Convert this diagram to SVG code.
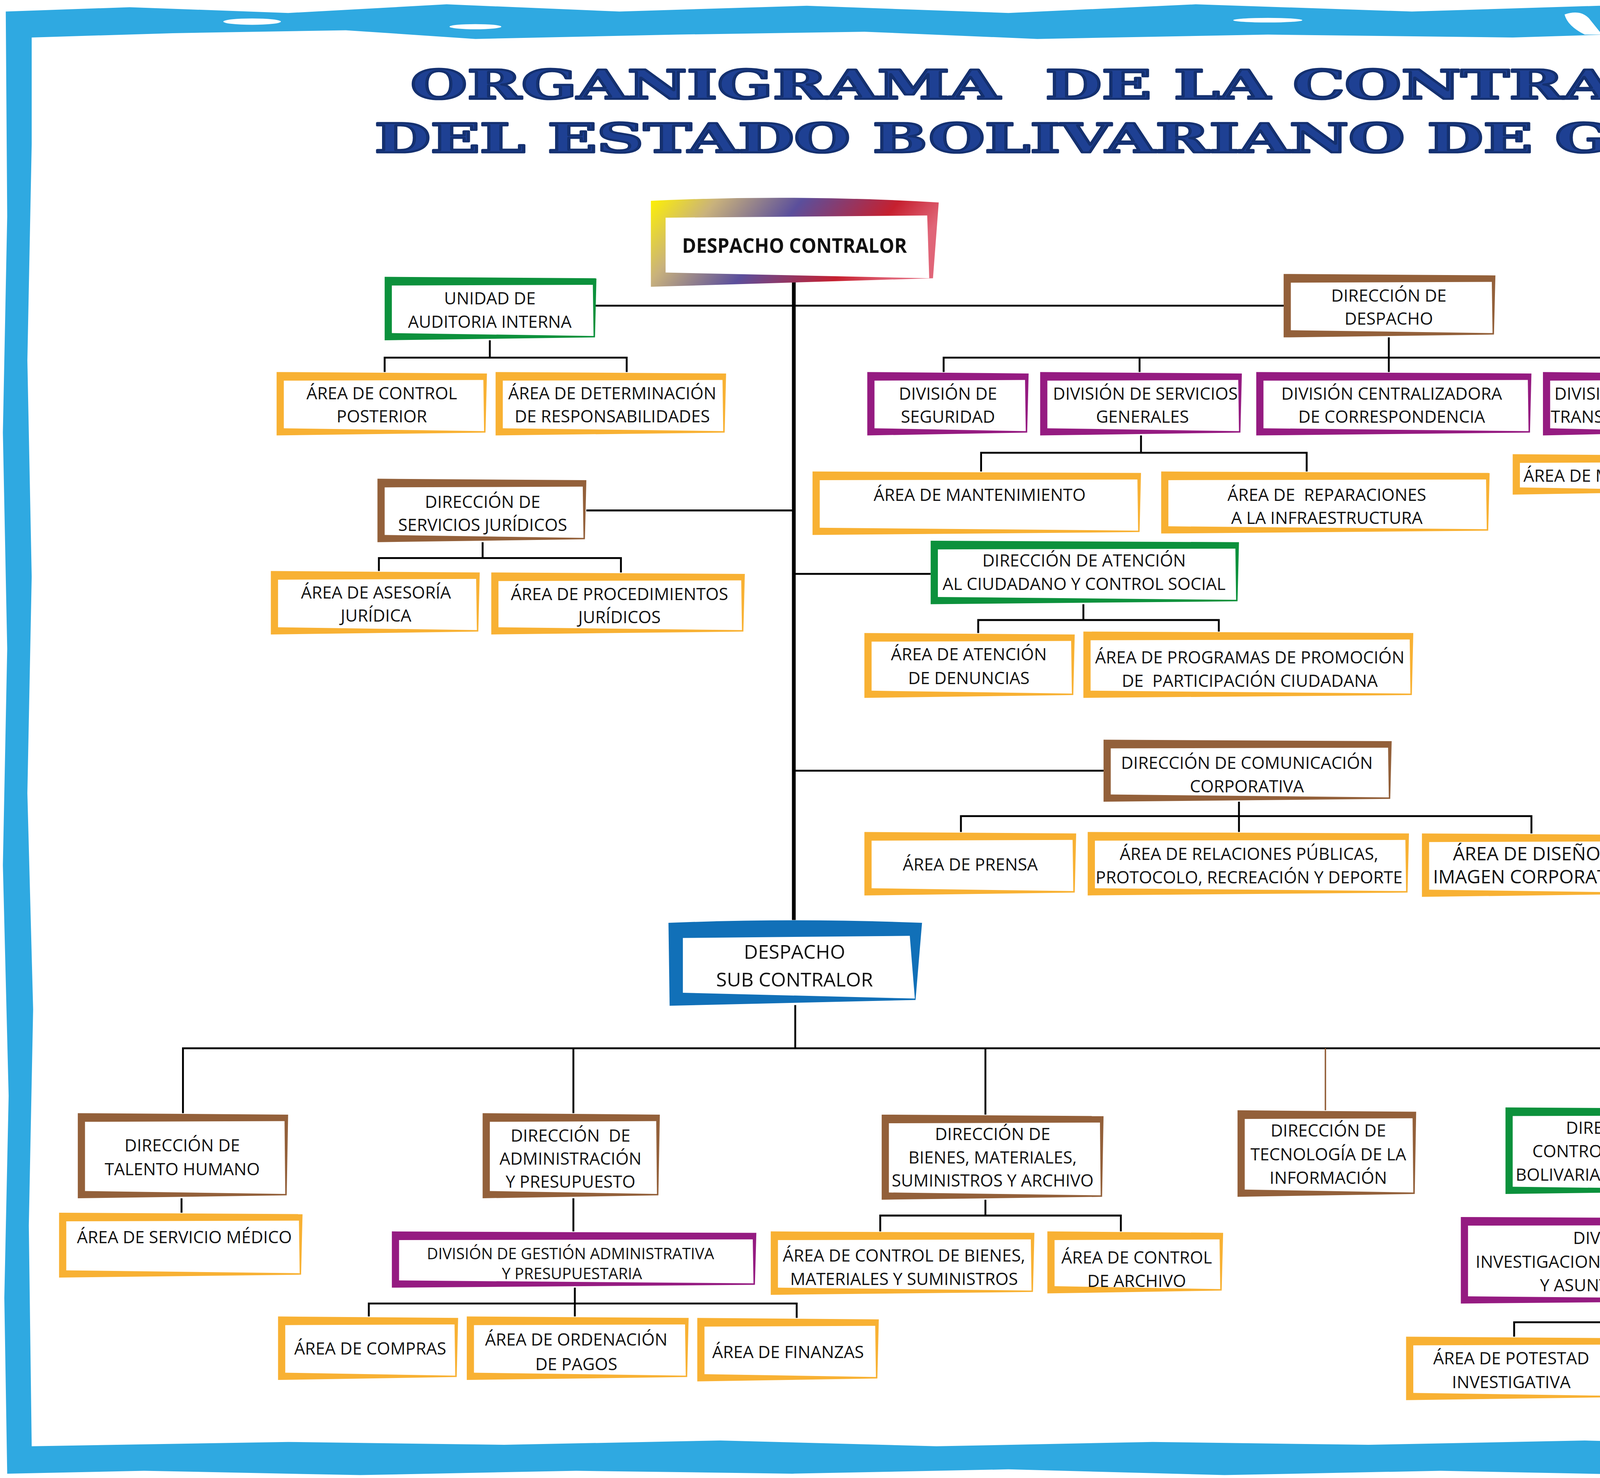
<svg xmlns="http://www.w3.org/2000/svg" width="5783" height="3783" viewBox="0 0 5783 3783">
<defs>
<style>
.frame{fill:#2fa9e1;fill-rule:evenodd}
.wisp{fill:#fff}
.ttl{font-family:'DejaVu Serif','Liberation Serif',serif;font-weight:bold;font-size:28px;fill:#1e4093;stroke:#14306f;stroke-width:1.4px;stroke-linejoin:round}
.in{fill:#fff}
.gr{fill:#0c913c}.br{fill:#93603a}.pu{fill:#951b81}.or{fill:#f8b133}.bl{fill:#1170b8}.nv{fill:#372f84}
.t{font-family:'Open Sans','Liberation Sans',sans-serif;font-size:11.8px;fill:#111;text-anchor:middle}
.t13{font-size:13px}
.tb{font-size:13.5px}
.ts{font-size:10.8px}
.tc{font-weight:bold;font-size:14px}
.ln{fill:none;stroke:#000;stroke-width:1.3px;stroke-linejoin:miter}
.trunk{stroke-width:2.6px}
.lnb{fill:none;stroke:#93603a;stroke-width:1px}
.lg{font-family:'Liberation Serif','DejaVu Serif',serif;font-size:11.5px;fill:#111}
.lgh{font-family:Lato,'DejaVu Sans',sans-serif;font-weight:bold;font-size:13.3px;fill:#111;text-anchor:middle}
.ft{font-family:'Open Sans','Liberation Sans',sans-serif;font-size:10.8px;fill:#111}
.sw{stroke:#231f20;stroke-width:0.6px}
</style>
<linearGradient id="gC" x1="0" y1="0" x2="1" y2="0.25">
<stop offset="0" stop-color="#fff200"/>
<stop offset="0.22" stop-color="#c9b27c"/>
<stop offset="0.5" stop-color="#5b4f9c"/>
<stop offset="0.82" stop-color="#c6202f"/>
<stop offset="1" stop-color="#e06578"/>
</linearGradient>
<linearGradient id="gS" x1="0" y1="0" x2="1" y2="1">
<stop offset="0" stop-color="#fff200"/>
<stop offset="0.45" stop-color="#2e3192"/>
<stop offset="1" stop-color="#ed1c24"/>
</linearGradient>
</defs>
<rect width="5783" height="3783" fill="#fff"/>
<g transform="scale(3.6881 3.6907)">
<g id="frame">
<path class="frame" d="M4 8 L90 5 L200 9 L310 3 L430 8 L560 4 L700 9 L830 3 L980 8 L1110 4 L1250 7 L1400 3 L1530 6 L1566 5 L1565 120 L1567 260 L1564 420 L1567 580 L1564 740 L1567 900 L1565 1021 L1450 1022 L1300 1019 L1150 1023 L1000 1020 L850 1023 L700 1019 L550 1022 L400 1020 L250 1023 L100 1020 L5 1022 L3 900 L6 760 L2 600 L5 450 L2 300 L5 150 Z M22 26 L120 23 L240 21 L330 27 L470 24 L600 22 L720 27 L880 24 L1050 26 L1180 22 L1300 27 L1420 24 L1552 21 L1550 150 L1553 300 L1549 450 L1552 600 L1549 750 L1552 900 L1550 1002 L1400 1000 L1250 1003 L1100 999 L950 1002 L800 1000 L650 1003 L500 999 L350 1002 L200 1000 L22 1003 L20 850 L23 700 L19 550 L22 400 L19 250 L22 100 Z"/>
<ellipse class="wisp" cx="175" cy="15" rx="20" ry="2.2"/>
<ellipse class="wisp" cx="330" cy="18.5" rx="18" ry="1.8"/>
<path class="wisp" d="M1086 10 Q1098 6 1104 14 L1112 24 L1100 24 Q1088 18 1086 10 Z"/>
<ellipse class="wisp" cx="1405" cy="17" rx="30" ry="2.2"/>
<ellipse class="wisp" cx="880" cy="14" rx="24" ry="1.6"/>
</g>

<g id="title">
<text class="ttl" x="285" y="68.5" textLength="1000" lengthAdjust="spacingAndGlyphs" xml:space="preserve">ORGANIGRAMA  DE LA CONTRALORÍA</text>
<text class="ttl" x="260" y="105.6" textLength="1063" lengthAdjust="spacingAndGlyphs">DEL ESTADO BOLIVARIANO DE GUÁRICO</text>
</g>

<g id="connectors">
<path class="ln trunk" d="M551 195 V638"/>
<path class="ln" d="M413 212 H891 M407 354 H551 M551 398 H646 M551 534.5 H766"/>
<path class="ln" d="M267 258 V248 H435 V258 M340 236 V248"/>
<path class="ln" d="M655 258 V248 H1277 V258 M964 234 V258 M791 248 V258 M1112 248 V258"/>
<path class="ln" d="M681 327 V314 H907 V327 M792 302 V314 M1113 302 V315"/>
<path class="ln" d="M263 396 V387 H431 V397 M335 376 V387"/>
<path class="ln" d="M679 439 V430 H846 V438 M752 419 V430"/>
<path class="ln" d="M667 577 V566 H1063 V578 M860 556 V577"/>
<path class="ln" d="M127 772 V727 H1406 V768 M552 697 V727 M398 727 V772 M684 727 V773 M1126.5 727 V768"/>
<path class="lnb" d="M920 727 V770"/>
<path class="ln" d="M126 831 V841 M398 831 V854 M256 913 V904 H553 V914 M399 893 V913"/>
<path class="ln" d="M611 854 V843 H778 V854 M684 832 V843 M1127 828 V844"/>
<path class="ln" d="M1051 927 V917 H1218.5 V927 M1125 904 V917 M1333 852 V842 H1501 V852 M1406 830 V842"/>
</g>

<g id="n-despacho-contralor">
<path fill="url(#gC)" d="M451.8 139.3 Q551 134.5 651.6 140.4 L647.6 193 L451.8 198.9 Z"/>
<path class="in" d="M462 151 L643.6 149.4 L645 193 L462 189 Z"/>
<text class="t tc" x="551.5" y="175.3" textLength="156" lengthAdjust="spacingAndGlyphs">DESPACHO CONTRALOR</text>
</g>

<g id="n-unidad-auditoria">
<path class="gr" d="M267 192 L414 193 L413 234 L267 236 Z"/>
<path class="in" d="M272 198 L411.5 197.5 L412 233 L272 231 Z"/>
<text class="t"><tspan x="340" y="211.2">UNIDAD DE</tspan><tspan x="340" y="227.2">AUDITORIA INTERNA</tspan></text>
</g>
<g id="n-area-control-posterior">
<path class="or" d="M192 258 L338 259 L337 300 L192 302 Z"/>
<path class="in" d="M197 264 L335.5 263.5 L336 299 L197 297 Z"/>
<text class="t"><tspan x="265" y="277">ÁREA DE CONTROL</tspan><tspan x="265" y="293">POSTERIOR</tspan></text>
</g>
<g id="n-area-determinacion">
<path class="or" d="M344 258 L504 259 L503 300 L344 302 Z"/>
<path class="in" d="M349 264 L501.5 263.5 L502 299 L349 297 Z"/>
<text class="t"><tspan x="425" y="277">ÁREA DE DETERMINACIÓN</tspan><tspan x="425" y="293">DE RESPONSABILIDADES</tspan></text>
</g>
<g id="n-direccion-despacho">
<path class="br" d="M891 190 L1038 191 L1037 232 L891 234 Z"/>
<path class="in" d="M896 196 L1035.5 195.5 L1036 231 L896 229 Z"/>
<text class="t"><tspan x="964" y="209.2">DIRECCIÓN DE</tspan><tspan x="964" y="225.2">DESPACHO</tspan></text>
</g>
<g id="n-div-seguridad">
<path class="pu" d="M602 258 L714 259 L713 300 L602 302 Z"/>
<path class="in" d="M607 264 L711.5 263.5 L712 299 L607 297 Z"/>
<text class="t"><tspan x="658" y="277.2">DIVISIÓN DE</tspan><tspan x="658" y="293.2">SEGURIDAD</tspan></text>
</g>
<g id="n-div-servicios-generales">
<path class="pu" d="M722 258 L862 259 L861 300 L722 302 Z"/>
<path class="in" d="M727 264 L859.5 263.5 L860 299 L727 297 Z"/>
<text class="t"><tspan x="795" y="277.2">DIVISIÓN DE SERVICIOS</tspan><tspan x="793" y="293.2">GENERALES</tspan></text>
</g>
<g id="n-div-centralizadora">
<path class="pu" d="M872 258 L1063 259 L1062 300 L872 302 Z"/>
<path class="in" d="M877 264 L1060.5 263.5 L1061 299 L877 297 Z"/>
<text class="t"><tspan x="966" y="277.2">DIVISIÓN CENTRALIZADORA</tspan><tspan x="966" y="293.2">DE CORRESPONDENCIA</tspan></text>
</g>
<g id="n-div-transporte">
<path class="pu" d="M1071 258 L1158 259 L1157 300 L1071 302 Z"/>
<path class="in" d="M1076 264 L1155.5 263.5 L1156 299 L1076 297 Z"/>
<text class="t"><tspan x="1113" y="277.2">DIVISIÓN DE</tspan><tspan x="1113" y="293.2">TRANSPORTE</tspan></text>
</g>
<g id="n-div-organizacion">
<path class="pu" d="M1167 258 L1401 259 L1400 300 L1167 302 Z"/>
<path class="in" d="M1172 264 L1398.5 263.5 L1399 299 L1172 297 Z"/>
<text class="t"><tspan x="1283" y="277.2">DIVISIÓN DE ORGANIZACIÓN, SISTEMAS</tspan><tspan x="1283" y="293.2">Y CONTROL DE GESTIÓN</tspan></text>
</g>
<g id="n-area-mantenimiento">
<path class="or" d="M564 327 L792 328 L791 369 L564 371 Z"/>
<path class="in" d="M569 333 L789.5 332.5 L790 368 L569 366 Z"/>
<text class="t" x="680" y="347.3">ÁREA DE MANTENIMIENTO</text>
</g>
<g id="n-area-reparaciones">
<path class="or" d="M806 327 L1034 328 L1033 368 L806 370 Z"/>
<path class="in" d="M811 333 L1031.5 332.5 L1032 367 L811 365 Z"/>
<text class="t" xml:space="preserve"><tspan x="921" y="347.3">ÁREA DE  REPARACIONES</tspan><tspan x="921" y="363.3">A LA INFRAESTRUCTURA</tspan></text>
</g>
<g id="n-area-mecanica">
<path class="or" d="M1050 315 L1175 316 L1174 341 L1050 343 Z"/>
<path class="in" d="M1055 321 L1172.5 320.5 L1173 340 L1055 338 Z"/>
<text class="t" x="1112" y="334">ÁREA DE MECÁNICA</text>
</g>
<g id="n-servicios-juridicos">
<path class="br" d="M262 332 L407 333 L406 374 L262 376 Z"/>
<path class="in" d="M267 338 L404.5 337.5 L405 373 L267 371 Z"/>
<text class="t"><tspan x="335" y="352.2">DIRECCIÓN DE</tspan><tspan x="335" y="368.2">SERVICIOS JURÍDICOS</tspan></text>
</g>
<g id="n-area-asesoria">
<path class="or" d="M188 396 L333 397 L332 438 L188 440 Z"/>
<path class="in" d="M193 402 L330.5 401.5 L331 437 L193 435 Z"/>
<text class="t"><tspan x="261" y="415.2">ÁREA DE ASESORÍA</tspan><tspan x="261" y="431.2">JURÍDICA</tspan></text>
</g>
<g id="n-area-procedimientos">
<path class="or" d="M341 397 L517 398 L516 438 L341 440 Z"/>
<path class="in" d="M346 403 L514.5 402.5 L515 437 L346 435 Z"/>
<text class="t"><tspan x="430" y="416.2">ÁREA DE PROCEDIMIENTOS</tspan><tspan x="430" y="432.2">JURÍDICOS</tspan></text>
</g>
<g id="n-atencion-ciudadano">
<path class="gr" d="M646 375 L860 376 L859 417 L646 419 Z"/>
<path class="in" d="M651 381 L857.5 380.5 L858 416 L651 414 Z"/>
<text class="t"><tspan x="752.5" y="393">DIRECCIÓN DE ATENCIÓN</tspan><tspan x="752.5" y="409.2">AL CIUDADANO Y CONTROL SOCIAL</tspan></text>
</g>
<g id="n-area-denuncias">
<path class="or" d="M600 439 L746 440 L745 482 L600 484 Z"/>
<path class="in" d="M605 445 L743.5 444.5 L744 481 L605 479 Z"/>
<text class="t"><tspan x="672.5" y="457.8">ÁREA DE ATENCIÓN</tspan><tspan x="672.5" y="474.4">DE DENUNCIAS</tspan></text>
</g>
<g id="n-area-programas">
<path class="or" d="M752 438 L981 439 L980 482 L752 484 Z"/>
<path class="in" d="M757 444 L978.5 443.5 L979 481 L757 479 Z"/>
<text class="t" xml:space="preserve"><tspan x="867.5" y="460">ÁREA DE PROGRAMAS DE PROMOCIÓN</tspan><tspan x="867.5" y="476.2">DE  PARTICIPACIÓN CIUDADANA</tspan></text>
</g>
<g id="n-comunicacion">
<path class="br" d="M766 513 L966 514 L965 554 L766 556 Z"/>
<path class="in" d="M771 519 L963.5 518.5 L964 553 L771 551 Z"/>
<text class="t"><tspan x="865.5" y="533.1">DIRECCIÓN DE COMUNICACIÓN</tspan><tspan x="865.5" y="549.5">CORPORATIVA</tspan></text>
</g>
<g id="n-area-prensa">
<path class="or" d="M600 577 L747 578 L746 619 L600 621 Z"/>
<path class="in" d="M605 583 L744.5 582.5 L745 618 L605 616 Z"/>
<text class="t" x="673.5" y="603.7">ÁREA DE PRENSA</text>
</g>
<g id="n-area-relaciones">
<path class="or" d="M755 577 L978 578 L977 619 L755 621 Z"/>
<path class="in" d="M760 583 L975.5 582.5 L976 618 L760 616 Z"/>
<text class="t"><tspan x="867" y="596.5">ÁREA DE RELACIONES PÚBLICAS,</tspan><tspan x="867" y="612.7">PROTOCOLO, RECREACIÓN Y DEPORTE</tspan></text>
</g>
<g id="n-area-diseno">
<path class="or" d="M987 578 L1141 579 L1140 620 L987 622 Z"/>
<path class="in" d="M992 584 L1138.5 583.5 L1139 619 L992 617 Z"/>
<text class="t t13"><tspan x="1065" y="596.6">ÁREA DE DISEÑO E</tspan><tspan x="1065" y="612.6">IMAGEN CORPORATIVA</tspan></text>
</g>

<g id="n-despacho-sub">
<path class="bl" d="M464 640 Q552 636.5 640 640 L635.5 693.5 L464.8 697.5 Z"/>
<path class="in" d="M474 650.5 L631.5 649 L635 692.5 L474 688.5 Z"/>
<text class="t tb"><tspan x="551.5" y="664.8">DESPACHO</tspan><tspan x="551.5" y="684.1">SUB CONTRALOR</tspan></text>
</g>
<g id="n-talento-humano">
<path class="br" d="M54 772 L200 773 L199 829 L54 831 Z"/>
<path class="in" d="M59 778 L197.5 777.5 L198 828 L59 826 Z"/>
<text class="t"><tspan x="126.5" y="798.6">DIRECCIÓN DE</tspan><tspan x="126.5" y="814.9">TALENTO HUMANO</tspan></text>
</g>
<g id="n-administracion">
<path class="br" d="M335 772 L458 773 L457 829 L335 831 Z"/>
<path class="in" d="M340 778 L455.5 777.5 L456 828 L340 826 Z"/>
<text class="t" xml:space="preserve"><tspan x="396" y="791.8">DIRECCIÓN  DE</tspan><tspan x="396" y="807.6">ADMINISTRACIÓN</tspan><tspan x="396" y="823.8">Y PRESUPUESTO</tspan></text>
</g>
<g id="n-bienes">
<path class="br" d="M612 773 L766 774 L765 830 L612 832 Z"/>
<path class="in" d="M617 779 L763.5 778.5 L764 829 L617 827 Z"/>
<text class="t"><tspan x="689" y="790.7">DIRECCIÓN DE</tspan><tspan x="689" y="806.9">BIENES, MATERIALES,</tspan><tspan x="689" y="822.8">SUMINISTROS Y ARCHIVO</tspan></text>
</g>
<g id="n-tecnologia">
<path class="br" d="M859 770 L983 771 L982 828 L859 830 Z"/>
<path class="in" d="M864 776 L980.5 775.5 L981 827 L864 825 Z"/>
<text class="t"><tspan x="922" y="788.2">DIRECCIÓN DE</tspan><tspan x="922" y="804.7">TECNOLOGÍA DE LA</tspan><tspan x="922" y="820.9">INFORMACIÓN</tspan></text>
</g>
<g id="n-control-estado">
<path class="gr" d="M1045 768 L1210 769 L1209 826 L1045 828 Z"/>
<path class="in" d="M1050 774 L1207.5 773.5 L1208 825 L1050 823 Z"/>
<text class="t"><tspan x="1127" y="786.3">DIRECCIÓN DE</tspan><tspan x="1127" y="802.5">CONTROL DEL ESTADO</tspan><tspan x="1127" y="818.7">BOLIVARIANO DE GUÁRICO</tspan></text>
</g>
<g id="n-determinacion-resp">
<path class="gr" d="M1333 768 L1480 769 L1479 828 L1333 830 Z"/>
<path class="in" d="M1338 774 L1477.5 773.5 L1478 827 L1338 825 Z"/>
<text class="t"><tspan x="1406" y="788.1">DIRECCIÓN DE</tspan><tspan x="1406" y="804">DETERMINACIÓN DE</tspan><tspan x="1406" y="820.1">RESPONSABILIDADES</tspan></text>
</g>
<g id="n-area-servicio-medico">
<path class="or" d="M41 841 L210 842 L209 884 L41 886 Z"/>
<path class="in" d="M46 847 L207.5 846.5 L208 883 L46 881 Z"/>
<text class="t" x="128" y="862.1">ÁREA DE SERVICIO MÉDICO</text>
</g>
<g id="n-div-gestion">
<path class="pu" d="M272 854 L525 855 L524 891 L272 893 Z"/>
<path class="in" d="M277 860 L522.5 859.5 L523 890 L277 888 Z"/>
<text class="t ts"><tspan x="396" y="873.3">DIVISIÓN DE GESTIÓN ADMINISTRATIVA</tspan><tspan x="397" y="887.1">Y PRESUPUESTARIA</tspan></text>
</g>
<g id="n-area-compras">
<path class="or" d="M193 913 L318 914 L317 955 L193 957 Z"/>
<path class="in" d="M198 919 L315.5 918.5 L316 954 L198 952 Z"/>
<text class="t" x="257" y="939.5">ÁREA DE COMPRAS</text>
</g>
<g id="n-area-ordenacion">
<path class="or" d="M324 913 L478 914 L477 955 L324 957 Z"/>
<path class="in" d="M329 919 L475.5 918.5 L476 954 L329 952 Z"/>
<text class="t"><tspan x="400" y="933.2">ÁREA DE ORDENACIÓN</tspan><tspan x="400" y="950.2">DE PAGOS</tspan></text>
</g>
<g id="n-area-finanzas">
<path class="or" d="M484 914 L610 915 L609 956 L484 958 Z"/>
<path class="in" d="M489 920 L607.5 919.5 L608 955 L489 953 Z"/>
<text class="t" x="547" y="941.9">ÁREA DE FINANZAS</text>
</g>
<g id="n-area-control-bienes">
<path class="or" d="M535 854 L718 855 L717 896 L535 898 Z"/>
<path class="in" d="M540 860 L715.5 859.5 L716 895 L540 893 Z"/>
<text class="t"><tspan x="627.5" y="874.9">ÁREA DE CONTROL DE BIENES,</tspan><tspan x="627.5" y="891.1">MATERIALES Y SUMINISTROS</tspan></text>
</g>
<g id="n-area-control-archivo">
<path class="or" d="M727 854 L849 855 L848 895 L727 897 Z"/>
<path class="in" d="M732 860 L846.5 859.5 L847 894 L732 892 Z"/>
<text class="t"><tspan x="789" y="876.2">ÁREA DE CONTROL</tspan><tspan x="789" y="892.4">DE ARCHIVO</tspan></text>
</g>
<g id="n-div-investigaciones">
<path class="pu" d="M1014 844 L1239 845 L1238 902 L1014 904 Z"/>
<path class="in" d="M1019 850 L1236.5 849.5 L1237 901 L1019 899 Z"/>
<text class="t"><tspan x="1126" y="862.8">DIVISIÓN DE</tspan><tspan x="1126" y="879.2">INVESTIGACIONES ADMINISTRATIVAS</tspan><tspan x="1126" y="895.4">Y ASUNTOS LEGALES</tspan></text>
</g>
<g id="n-area-potestad">
<path class="or" d="M976 927 L1122 928 L1121 969 L976 971 Z"/>
<path class="in" d="M981 933 L1119.5 932.5 L1120 968 L981 966 Z"/>
<text class="t"><tspan x="1049" y="946.2">ÁREA DE POTESTAD</tspan><tspan x="1049" y="962.6">INVESTIGATIVA</tspan></text>
</g>
<g id="n-area-examen">
<path class="or" d="M1128 927 L1289 928 L1288 967 L1128 969 Z"/>
<path class="in" d="M1133 933 L1286.5 932.5 L1287 966 L1133 964 Z"/>
<text class="t"><tspan x="1208" y="947.2">ÁREA DE EXÁMEN DE LA</tspan><tspan x="1208" y="963.4">CUENTA Y AUDITORÍA</tspan></text>
</g>
<g id="n-area-acciones">
<path class="or" d="M1280 852 L1401 853 L1400 894 L1280 896 Z"/>
<path class="in" d="M1285 858 L1398.5 857.5 L1399 893 L1285 891 Z"/>
<text class="t"><tspan x="1341" y="870.8">ÁREA DE ACCIONES</tspan><tspan x="1341" y="887.2">FISCALES</tspan></text>
</g>
<g id="n-area-recursos">
<path class="or" d="M1412 852 L1536 853 L1535 894 L1412 896 Z"/>
<path class="in" d="M1417 858 L1533.5 857.5 L1534 893 L1417 891 Z"/>
<text class="t"><tspan x="1473" y="872.1">ÁREA DE RECURSOS</tspan><tspan x="1473" y="888.2">ADMINISTRATIVOS</tspan></text>
</g>

<g id="legend">
<path class="nv" d="M1339 390 L1536 389.5 L1535.5 412 L1339 412.5 Z"/>
<path class="in" d="M1341.5 394.5 L1533 394 L1533 409.5 L1341.5 410 Z"/>
<text class="lgh" x="1441" y="404.3" textLength="57.4" lengthAdjust="spacingAndGlyphs">LEYENDA</text>
<path class="nv" d="M1338 413.5 L1536 413 L1535.5 584 L1338.5 584.5 Z"/>
<path class="in" d="M1341.3 417.5 L1532.5 417.3 L1532.3 581.8 L1341.3 582 Z"/>
<rect class="sw" x="1345" y="423.3" width="22.6" height="21.8" fill="url(#gS)"/>
<rect class="sw" x="1345" y="449.6" width="22.6" height="21.8" fill="#0d71b4"/>
<rect class="sw" x="1345" y="475.6" width="22.6" height="21.8" fill="#009245"/>
<rect class="sw" x="1345" y="502.2" width="22.6" height="21.8" fill="#8e5f38"/>
<rect class="sw" x="1345" y="527.7" width="22.6" height="21.8" fill="#662d86"/>
<rect class="sw" x="1345" y="554.6" width="22.6" height="21.8" fill="#f8b133"/>
<text class="lg" x="1371.5" y="437.4" textLength="134.4" lengthAdjust="spacingAndGlyphs">CONTRALOR DEL ESTADO</text>
<text class="lg" x="1371.5" y="463" textLength="157.7" lengthAdjust="spacingAndGlyphs">SUB-CONTRALOR DEL ESTADO</text>
<text class="lg" x="1371.5" y="490.3" textLength="138.5" lengthAdjust="spacingAndGlyphs">DIRECCIONES MEDULARES</text>
<text class="lg" x="1371.5" y="517.2" textLength="146.1" lengthAdjust="spacingAndGlyphs">DIRECCIONES SUSTANTIVAS</text>
<text class="lg" x="1372.5" y="541.8" textLength="59.5" lengthAdjust="spacingAndGlyphs">DIVISIONES</text>
<text class="lg" x="1372.8" y="568.3" textLength="34.3" lengthAdjust="spacingAndGlyphs">ÁREAS</text>
</g>

<text id="footer" class="ft" x="1201.3" y="998.6" textLength="349.2" lengthAdjust="spacingAndGlyphs">FUNDAMENTO LEGAL: RESOLUCION N° 01-132-2023 DE FECHA 08/12/2023</text>
</g>
</svg>
